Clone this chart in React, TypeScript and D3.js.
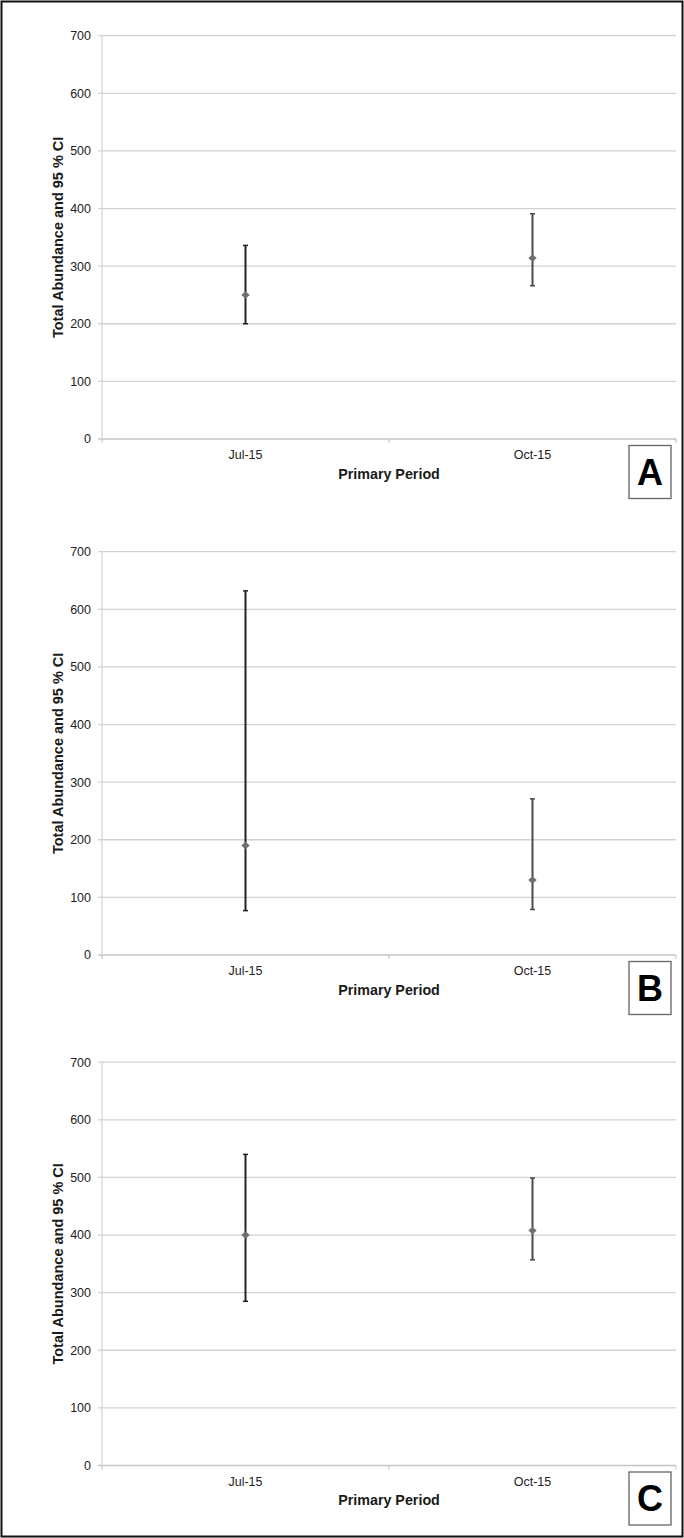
import React from "react";
import * as d3 from "d3";

const categories = ["Jul-15", "Oct-15"];
const panelLetters = ["A", "B", "C"];
const yTicks = [0, 100, 200, 300, 400, 500, 600, 700];

const estimateA = [250, 314];
const lowerA = [200, 266];
const upperA = [336, 391];

const estimateB = [190, 130];
const lowerB = [77, 79];
const upperB = [632, 271];

const estimateC = [400, 408];
const lowerC = [285, 357];
const upperC = [540, 499];

const panelData = [
  { est: estimateA, lo: lowerA, hi: upperA },
  { est: estimateB, lo: lowerB, hi: upperB },
  { est: estimateC, lo: lowerC, hi: upperC },
];

const W = 684;
const H = 1538;
const PLOT_LEFT = 102;
const PLOT_RIGHT = 676;
const PANEL_TOPS = [35.7, 551.7, 1062.2];
const PLOT_H = 403.3;
const FONT = "'Liberation Sans', Arial, sans-serif";
const BAR_COLORS = ["#222", "#4a4a4a"];

function Panel({ idx }: { idx: number }) {
  const top = PANEL_TOPS[idx];
  const bottom = top + PLOT_H;
  const x = d3.scaleBand<string>().domain(categories).range([PLOT_LEFT, PLOT_RIGHT]);
  const y = d3.scaleLinear().domain([0, 700]).range([bottom, top]);
  const d = panelData[idx];
  const boundaries = [PLOT_LEFT, ...categories.map((c) => (x(c) as number) + x.bandwidth())];
  const midX = (PLOT_LEFT + PLOT_RIGHT) / 2;
  return (
    <g>
      {yTicks.map((t) => (
        <g key={t}>
          <line x1={PLOT_LEFT - 4} x2={PLOT_RIGHT} y1={y(t)} y2={y(t)} stroke={t === 0 ? "#c4c4c4" : "#d2d2d2"} strokeWidth={1.3} />
          <text x={91} y={y(t)} dy="0.35em" textAnchor="end" fontFamily={FONT} fontSize={12.5} fill="#222">
            {t}
          </text>
        </g>
      ))}
      <line x1={PLOT_LEFT} x2={PLOT_LEFT} y1={top} y2={bottom} stroke="#d6d6d6" strokeWidth={1.3} />
      {boundaries.map((b, i) => (
        <line key={i} x1={b} x2={b} y1={bottom} y2={bottom + 4} stroke="#c8c8c8" strokeWidth={1.2} />
      ))}
      {categories.map((c) => (
        <text key={c} x={(x(c) as number) + x.bandwidth() / 2} y={bottom + 16} dy="0.35em" textAnchor="middle" fontFamily={FONT} fontSize={12.5} fill="#222">
          {c}
        </text>
      ))}
      <text x={midX} y={bottom + 34.5} dy="0.35em" textAnchor="middle" fontFamily={FONT} fontSize={14.3} fontWeight="bold" fill="#1a1a1a">
        Primary Period
      </text>
      <text
        transform={`translate(58, ${(top + bottom) / 2}) rotate(-90)`}
        dy="0.35em"
        textAnchor="middle"
        fontFamily={FONT}
        fontSize={14.5}
        fontWeight="bold"
        fill="#1a1a1a"
      >
        Total Abundance and 95 % CI
      </text>
      {categories.map((c, i) => {
        const cx = (x(c) as number) + x.bandwidth() / 2;
        const col = BAR_COLORS[i];
        const ey = y(d.est[i]);
        return (
          <g key={c}>
            <line x1={cx} x2={cx} y1={y(d.lo[i])} y2={y(d.hi[i])} stroke={col} strokeWidth={2} />
            <line x1={cx - 2.5} x2={cx + 2.5} y1={y(d.lo[i])} y2={y(d.lo[i])} stroke={col} strokeWidth={1.5} />
            <line x1={cx - 2.5} x2={cx + 2.5} y1={y(d.hi[i])} y2={y(d.hi[i])} stroke={col} strokeWidth={1.5} />
            <path d={`M${cx - 4.2},${ey} L${cx},${ey - 3.8} L${cx + 4.2},${ey} L${cx},${ey + 3.8} Z`} fill="#707070" />
          </g>
        );
      })}
      <rect x={629} y={bottom + 6.5} width={42} height={53} fill="#fff" stroke="#666" strokeWidth={1.3} />
      <text x={650} y={bottom + 33} dy="0.36em" textAnchor="middle" fontFamily={FONT} fontSize={36} fontWeight="bold" fill="#000">
        {panelLetters[idx]}
      </text>
    </g>
  );
}

export default function App() {
  return (
    <svg width={W} height={H} style={{ position: "absolute", left: 0, top: 0, background: "#fff" }}>
      <rect x={0} y={0} width={W} height={H} fill="#fff" />
      {panelLetters.map((_, i) => (
        <Panel key={i} idx={i} />
      ))}
      <rect x={1.5} y={1.5} width={W - 3} height={H - 3} fill="none" stroke="#111" strokeWidth={2} />
    </svg>
  );
}
